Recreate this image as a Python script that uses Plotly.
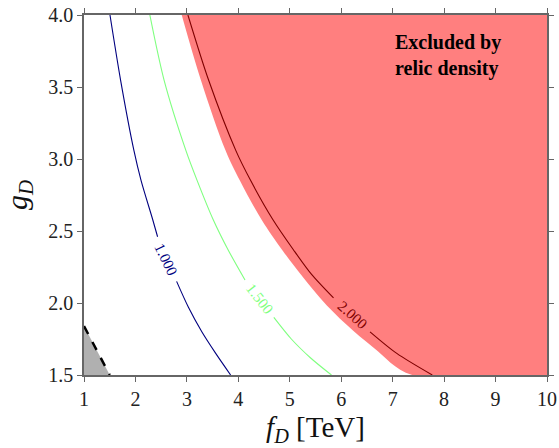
import plotly.graph_objects as go

# ---- data ----
# contour 1.000 (split around its label)
f_c1_a = [1.505, 1.71, 1.97, 2.11, 2.335, 2.43]
g_c1_a = [4.00, 3.55, 3.06, 2.85, 2.58, 2.46]
f_c1_b = [2.80, 3.03, 3.29, 3.56, 3.85]
g_c1_b = [2.15, 1.97, 1.80, 1.65, 1.50]

# contour 1.500
f_c15_a = [2.28, 2.555, 2.98, 3.20, 3.51, 3.80, 4.13]
g_c15_a = [4.00, 3.55, 3.06, 2.85, 2.58, 2.37, 2.16]
f_c15_b = [4.69, 5.03, 5.40, 5.81]
g_c15_b = [1.90, 1.75, 1.62, 1.50]

# contour 2.000
f_c2_a = [3.02, 3.42, 3.95, 4.24, 4.67, 5.07, 5.42, 5.85]
g_c2_a = [4.00, 3.55, 3.06, 2.85, 2.58, 2.37, 2.20, 2.035]
f_c2_b = [6.56, 7.08, 7.77]
g_c2_b = [1.80, 1.65, 1.50]

# relic-density exclusion boundary
f_relic = [2.90, 3.27, 3.75, 4.03, 4.45, 4.87, 5.59, 6.10, 6.63, 7.38]
g_relic = [4.00, 3.55, 3.06, 2.85, 2.58, 2.36, 2.035, 1.85, 1.69, 1.50]

# grey excluded corner (dashed boundary)
f_grey = [1.0, 1.5]
g_grey = [1.84, 1.50]

# contour labels
lab_text = ["1.000", "1.500", "2.000"]
lab_f = [2.60, 4.42, 6.22]
lab_g = [2.30, 2.03, 1.92]
lab_angle = [64, 52, 42]
lab_color = ["#00007F", "#7FFF7F", "#7F0000"]

x_range = [1, 10]
y_range = [1.5, 4.0]
y_ticks = [1.5, 2.0, 2.5, 3.0, 3.5, 4.0]
x_ticks = [1, 2, 3, 4, 5, 6, 7, 8, 9, 10]

SERIF = "Liberation Serif"

fig = go.Figure()

# red excluded region
fig.add_trace(go.Scatter(
    x=f_relic + [x_range[1], x_range[1]],
    y=g_relic + [y_range[0], y_range[1]],
    fill="toself", fillcolor="rgb(255,127,127)", mode="none",
    line=dict(shape="spline"),
    hoverinfo="skip", showlegend=False))

# grey region
fig.add_trace(go.Scatter(
    x=f_grey + [x_range[0]], y=g_grey + [y_range[0]],
    fill="toself", fillcolor="rgb(176,176,176)", mode="none",
    hoverinfo="skip", showlegend=False))
fig.add_trace(go.Scatter(
    x=f_grey, y=g_grey, mode="lines",
    line=dict(color="black", width=2.5, dash="dash"),
    hoverinfo="skip", showlegend=False))

# contour lines
for fx, gy, col in [(f_c1_a, g_c1_a, lab_color[0]), (f_c1_b, g_c1_b, lab_color[0]),
                    (f_c15_a, g_c15_a, lab_color[1]), (f_c15_b, g_c15_b, lab_color[1]),
                    (f_c2_a, g_c2_a, lab_color[2]), (f_c2_b, g_c2_b, lab_color[2])]:
    fig.add_trace(go.Scatter(x=fx, y=gy, mode="lines",
                             line=dict(color=col, width=1.1, shape="spline", smoothing=0.8),
                             hoverinfo="skip", showlegend=False))

for t, fx, gy, ang, col in zip(lab_text, lab_f, lab_g, lab_angle, lab_color):
    fig.add_annotation(x=fx, y=gy, text=t, showarrow=False, textangle=ang,
                       font=dict(family=SERIF, size=15, color=col))

fig.add_annotation(xref="paper", yref="paper", x=0.667, y=0.96,
                   xanchor="left", yanchor="top", align="left",
                   text="<b>Excluded by<br>relic density</b>", showarrow=False,
                   font=dict(family=SERIF, size=20, color="black"))

axis_common = dict(showline=True, mirror="ticks", linecolor="#666", linewidth=1.5,
                   ticks="outside", ticklen=5, tickcolor="#666", tickwidth=1,
                   showgrid=False, zeroline=False, automargin=False,
                   tickfont=dict(family=SERIF, size=20, color="#222"))

fig.update_xaxes(range=x_range, tickvals=x_ticks,
                 title=dict(text="<i>f</i><sub><i>D</i></sub> [TeV]",
                            font=dict(family=SERIF, size=29, color="#111"), standoff=8),
                 **axis_common)
fig.update_yaxes(range=y_range, tickvals=y_ticks, tickformat=".1f",
                 title=dict(text="<i>g</i><sub><i>D</i></sub>",
                            font=dict(family=SERIF, size=30, color="#111"), standoff=14),
                 **axis_common)

fig.update_layout(width=559, height=448,
                  font=dict(family=SERIF, color="#222"),
                  margin=dict(l=84, r=12, t=15, b=73),
                  plot_bgcolor="white", paper_bgcolor="white")

fig.write_html("out.html")
